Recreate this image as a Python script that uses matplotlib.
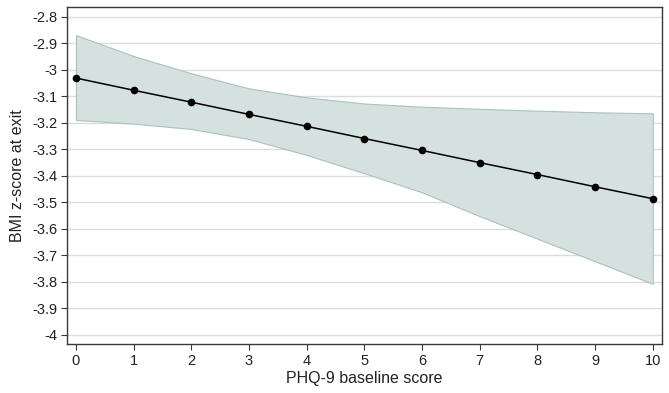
import matplotlib
matplotlib.use("Agg")
import matplotlib.pyplot as plt

plt.rcParams['font.family'] = ['Liberation Sans', 'DejaVu Sans']

x = [0, 1, 2, 3, 4, 5, 6, 7, 8, 9, 10]
mean = [-3.031, -3.077, -3.122, -3.168, -3.213, -3.259, -3.304, -3.350, -3.395, -3.441, -3.486]
upper = [-2.869, -2.948, -3.013, -3.070, -3.104, -3.127, -3.139, -3.147, -3.154, -3.160, -3.164]
lower = [-3.189, -3.203, -3.223, -3.261, -3.321, -3.390, -3.462, -3.552, -3.637, -3.722, -3.807]
yticks = [-2.8, -2.9, -3.0, -3.1, -3.2, -3.3, -3.4, -3.5, -3.6, -3.7, -3.8, -3.9, -4.0]
ytick_labels = ['-2.8', '-2.9', '-3', '-3.1', '-3.2', '-3.3', '-3.4', '-3.5', '-3.6', '-3.7', '-3.8', '-3.9', '-4']

fig = plt.figure(figsize=(6.69, 3.93), dpi=100)
ax = fig.add_axes([67/669, 1 - 344/393, (662 - 67)/669, (344 - 7)/393])

ax.fill_between(x, lower, upper, facecolor='#d5e1de', edgecolor='#a9c3bc', linewidth=0.8, zorder=2)
ax.plot(x, mean, color='black', linewidth=1.1, marker='o', markersize=4.5, zorder=3)

ax.set_xlim(-0.156, 10.16)
ax.set_ylim(-4.034, -2.763)
ax.set_xticks(x)
ax.set_yticks(yticks)
ax.set_yticklabels(ytick_labels)
ax.yaxis.grid(True, color='#dcdcdc', linewidth=1.0, zorder=0)
ax.set_axisbelow(True)

for s in ax.spines.values():
    s.set_color('#3a3a3a')
    s.set_linewidth(1.0)

ax.tick_params(axis='both', direction='out', length=4, width=0.8, color='#3a3a3a', labelsize=10.5, colors='#222222')
ax.tick_params(axis='y', pad=3)
ax.set_xlabel('PHQ-9 baseline score', fontsize=11.5, color='#222222', labelpad=2)
ax.set_ylabel('BMI z-score at exit', fontsize=11.5, color='#222222', labelpad=5)

fig.savefig('out.png', dpi=100)
